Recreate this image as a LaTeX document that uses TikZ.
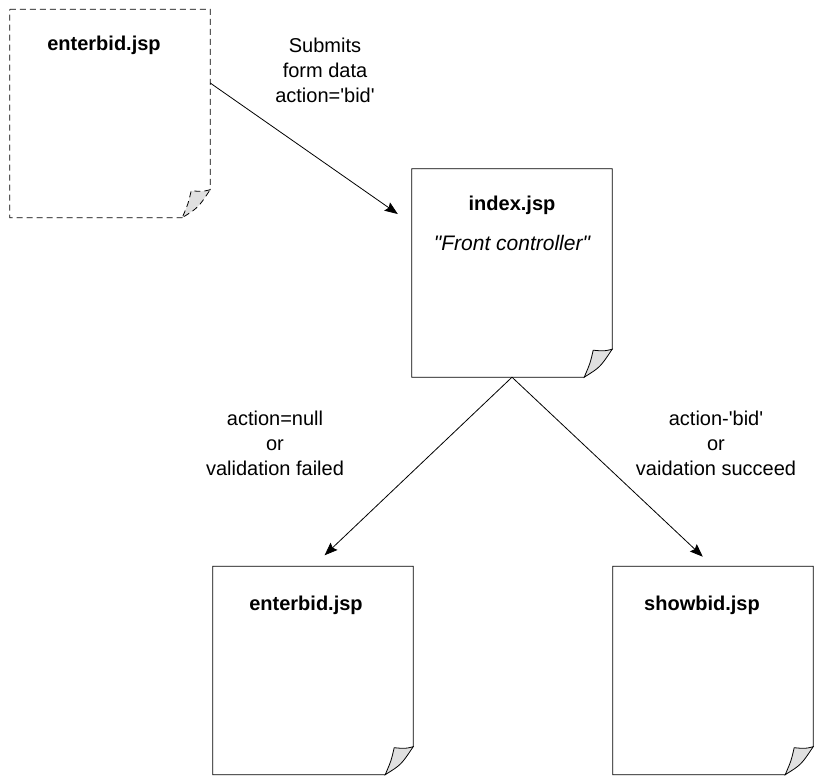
\documentclass[tikz,border=0pt]{standalone}
\usepackage{fontspec}
\setmainfont{Liberation Sans}[Ligatures=TeXOff]
\usetikzlibrary{arrows.meta,calc}
\tikzset{
  page/.style={rectangle, draw=none, minimum width=200pt, minimum height=208pt, inner sep=0pt},
  outline/.style={draw=black, line width=0.8pt, line join=miter},
  dashline/.style={dash pattern=on 6pt off 4pt},
  flap/.style={fill=black!12, line width=0.8pt, line join=miter},
  title/.style={font=\fontsize{20}{24}\selectfont\bfseries, inner sep=0pt},
  lbl/.style={font=\fontsize{20}{25}\selectfont, align=center, inner sep=0pt},
  arr/.style={-{Stealth[length=13pt,width=10pt,inset=2pt]}, line width=0.8pt}
}
\newcommand{\pageoutline}[2]{%
  \draw[outline,#2] (#1.north west) -- (#1.north east) -- ([yshift=28pt]#1.south east)
     -- ([xshift=-28pt]#1.south east) -- (#1.south west) -- cycle;
  \draw[flap,#2] ([yshift=28pt]#1.south east) .. controls ([xshift=-8pt,yshift=26pt]#1.south east) .. ([xshift=-19pt,yshift=27pt]#1.south east)
     .. controls ([xshift=-22pt,yshift=14pt]#1.south east) .. ([xshift=-28pt]#1.south east)
     .. controls ([xshift=-12pt,yshift=10pt]#1.south east) .. cycle;
}
\begin{document}
\begin{tikzpicture}[x=1pt,y=-1pt]
\useasboundingbox (0,0) rectangle (825,777);
% pages
\node[page] (src) at (110,113.5) {};
\node[page] (idx) at (512,273) {};
\node[page] (bad) at (313,670.5) {};
\node[page] (ok)  at (713,670.5) {};
\pageoutline{src}{dashline}
\pageoutline{idx}{}
\pageoutline{bad}{}
\pageoutline{ok}{}
% titles
\node[title] (t1) at (104,45) {enterbid.jsp};
\node[title] (t2) at (512,205) {index.jsp};
\node[lbl,font=\fontsize{21}{25}\selectfont\itshape] (t2b) at (512,243) {"Front controller"};
\node[title] (t3) at (306,605) {enterbid.jsp};
\node[title] (t4) at (702,605) {showbid.jsp};
% labels
\node[lbl] (l1) at (325,70) {Submits\\form data\\action='bid'};
\node[lbl] (l2) at (275,443) {action=null\\or\\validation failed};
\node[lbl] (l3) at (716,443) {action-'bid'\\or\\vaidation succeed};
% connectors
\draw[arr] ([yshift=30.5pt]src.east) -- ([xshift=-14pt,yshift=59pt]idx.west);
\draw[arr, shorten >=16pt] (idx.south) -- (bad.north);
\draw[arr, shorten >=14pt] (idx.south) -- (ok.north);
\end{tikzpicture}
\end{document}
